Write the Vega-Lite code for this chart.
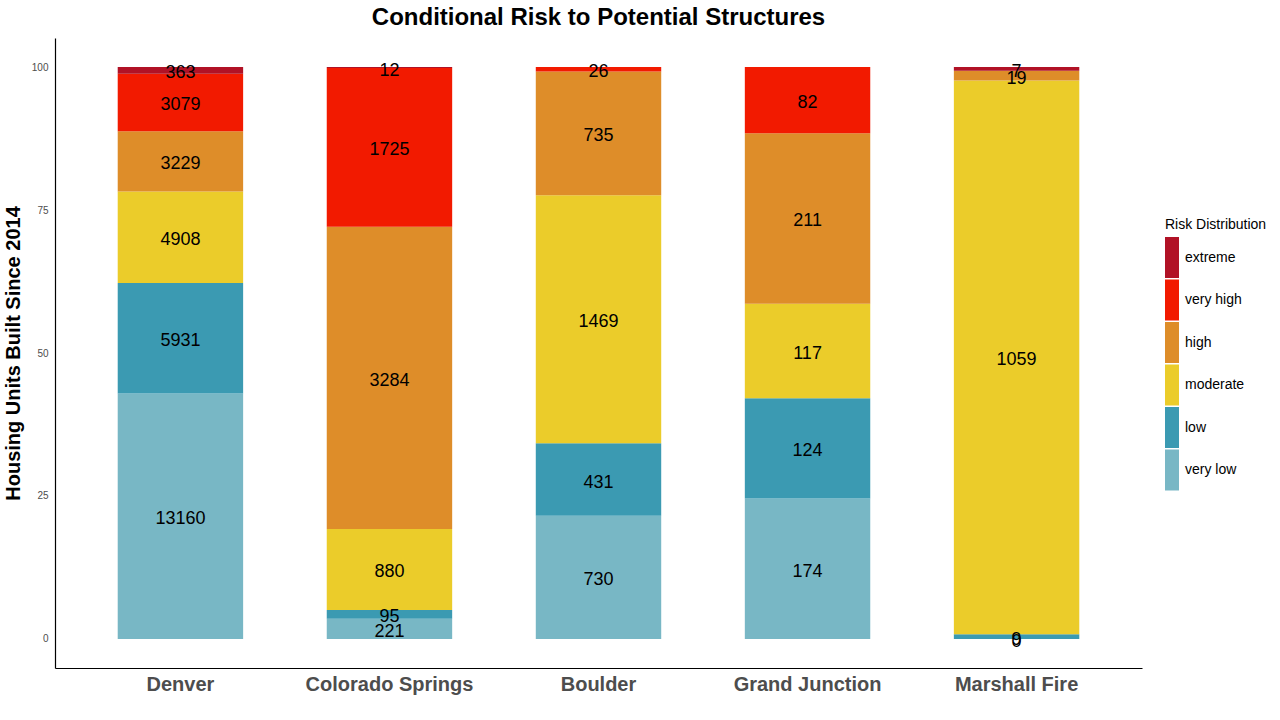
{
  "$schema": "https://vega.github.io/schema/vega-lite/v6.json",
  "autosize": {"type": "none"},
  "width": 1087,
  "height": 630,
  "padding": {"left": 55, "top": 38, "right": 138, "bottom": 52},
  "background": "white",
  "config": {"view": {"stroke": null}, "font": "Liberation Sans"},
  "title": {"text": "Conditional Risk to Potential Structures", "fontSize": 24, "fontWeight": "bold", "color": "black", "anchor": "middle", "offset": 8, "font": "Liberation Sans"},
  "data": {"values": [
    {"city": "Denver", "risk": "very low", "ord": 1, "count": 13160},
    {"city": "Denver", "risk": "low", "ord": 2, "count": 5931},
    {"city": "Denver", "risk": "moderate", "ord": 3, "count": 4908},
    {"city": "Denver", "risk": "high", "ord": 4, "count": 3229},
    {"city": "Denver", "risk": "very high", "ord": 5, "count": 3079},
    {"city": "Denver", "risk": "extreme", "ord": 6, "count": 363},
    {"city": "Colorado Springs", "risk": "very low", "ord": 1, "count": 221},
    {"city": "Colorado Springs", "risk": "low", "ord": 2, "count": 95},
    {"city": "Colorado Springs", "risk": "moderate", "ord": 3, "count": 880},
    {"city": "Colorado Springs", "risk": "high", "ord": 4, "count": 3284},
    {"city": "Colorado Springs", "risk": "very high", "ord": 5, "count": 1725},
    {"city": "Colorado Springs", "risk": "extreme", "ord": 6, "count": 12},
    {"city": "Boulder", "risk": "very low", "ord": 1, "count": 730},
    {"city": "Boulder", "risk": "low", "ord": 2, "count": 431},
    {"city": "Boulder", "risk": "moderate", "ord": 3, "count": 1469},
    {"city": "Boulder", "risk": "high", "ord": 4, "count": 735},
    {"city": "Boulder", "risk": "very high", "ord": 5, "count": 26},
    {"city": "Grand Junction", "risk": "very low", "ord": 1, "count": 174},
    {"city": "Grand Junction", "risk": "low", "ord": 2, "count": 124},
    {"city": "Grand Junction", "risk": "moderate", "ord": 3, "count": 117},
    {"city": "Grand Junction", "risk": "high", "ord": 4, "count": 211},
    {"city": "Grand Junction", "risk": "very high", "ord": 5, "count": 82},
    {"city": "Marshall Fire", "risk": "very low", "ord": 1, "count": 0},
    {"city": "Marshall Fire", "risk": "low", "ord": 2, "count": 9},
    {"city": "Marshall Fire", "risk": "moderate", "ord": 3, "count": 1059},
    {"city": "Marshall Fire", "risk": "high", "ord": 4, "count": 19},
    {"city": "Marshall Fire", "risk": "extreme", "ord": 6, "count": 7}
  ]},
  "transform": [
    {"stack": "count", "groupby": ["city"], "sort": [{"field": "ord", "order": "ascending"}], "offset": "normalize", "as": ["s0", "s1"]},
    {"calculate": "datum.s0 * 100", "as": "p0"},
    {"calculate": "datum.s1 * 100", "as": "p1"},
    {"calculate": "(datum.s0 + datum.s1) * 50", "as": "pm"}
  ],
  "encoding": {
    "x": {"field": "city", "type": "nominal", "sort": ["Denver", "Colorado Springs", "Boulder", "Grand Junction", "Marshall Fire"],
      "scale": {"paddingInner": 0.4, "paddingOuter": 0.3},
      "axis": {"title": null, "labelAngle": 0, "labelFontSize": 20, "labelFontWeight": "bold", "labelColor": "#4d4d4d", "labelFont": "Liberation Sans", "ticks": false, "labelPadding": 6, "domainColor": "black", "domainWidth": 1.2, "grid": false}}
  },
  "layer": [
    {
      "mark": {"type": "bar", "stroke": null},
      "encoding": {
        "y": {"field": "p0", "type": "quantitative", "scale": {"domain": [-5.07, 105.07], "nice": false, "zero": false},
          "axis": {"title": "Housing Units Built Since 2014", "titleFontSize": 20, "titleFontWeight": "bold", "titleColor": "black", "titleFont": "Liberation Sans", "titlePadding": 8, "values": [0, 25, 50, 75, 100], "labelFontSize": 10, "labelColor": "#4d4d4d", "labelPadding": 7, "ticks": false, "grid": false, "domainColor": "black", "domainWidth": 1.2}},
        "y2": {"field": "p1"},
        "color": {"field": "risk", "type": "nominal",
          "scale": {"domain": ["extreme", "very high", "high", "moderate", "low", "very low"], "range": ["#B11226", "#F21A00", "#DE8D29", "#EBCC2A", "#3B9AB2", "#78B7C5"]},
          "legend": {"title": "Risk Distribution", "orient": "none", "legendX": 1110, "legendY": 180, "titleFontSize": 14, "titleFontWeight": "normal", "titleColor": "black", "titleFont": "Liberation Sans", "titlePadding": 5, "labelFontSize": 14, "labelColor": "black", "labelFont": "Liberation Sans", "symbolType": "M-1,-1H-0.317V1H-1Z", "symbolSize": 1681, "symbolStrokeWidth": 0, "symbolOpacity": 1, "labelOffset": -21, "rowPadding": 1.5}}
      }
    },
    {
      "mark": {"type": "text", "fontSize": 18, "color": "black", "font": "Liberation Sans", "baseline": "middle", "align": "center", "dy": 3},
      "encoding": {
        "y": {"field": "pm", "type": "quantitative"},
        "text": {"field": "count", "type": "quantitative", "format": "d"}
      }
    }
  ]
}
